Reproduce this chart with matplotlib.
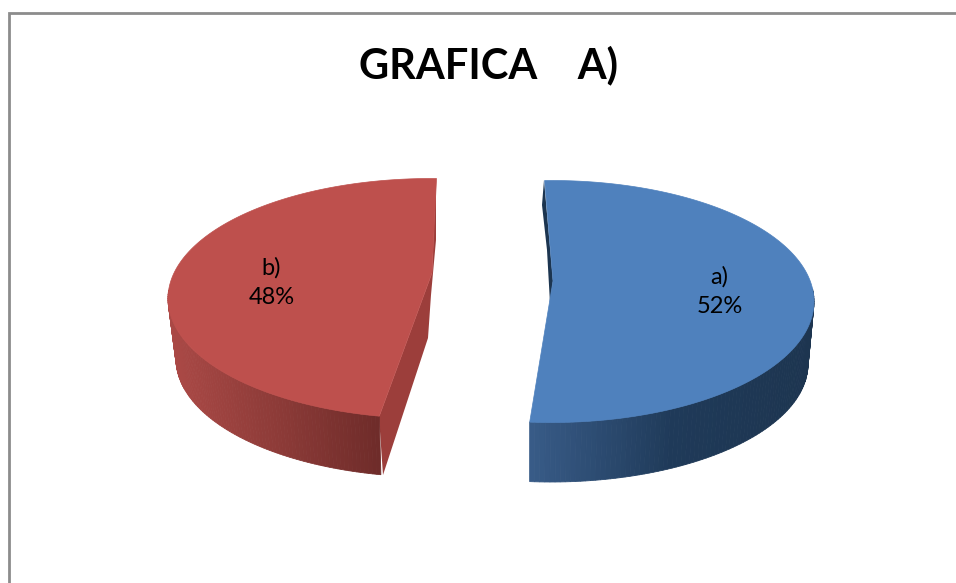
import numpy as np
import matplotlib
matplotlib.use('Agg')
import matplotlib.pyplot as plt
from matplotlib.colors import to_rgb
from matplotlib.patches import Polygon

title = 'GRAFICA    A)'
labels = ['a)', 'b)']
values = [52, 48]

plt.rcParams['font.family'] = ['Lato', 'DejaVu Sans']

# the drawing is in pixel coordinates of the 956x583 picture
fig = plt.figure(figsize=(9.56, 5.83), dpi=100)
ax = fig.add_axes([0, 0, 1, 1])
ax.set_xlim(0, 956)
ax.set_ylim(583, 0)
ax.axis('off')


def ellipse(c, r, t):
    t = np.radians(t)
    return np.column_stack([c[0] + r[0] * np.cos(t), c[1] - r[1] * np.sin(t)])


def wall(t0, t1, c_top, r_top, c_bot, r_bot, col_a, col_b, col_c):
    # outer wall of a slice as thin strips, shaded from left to right
    ts = np.linspace(t0, t1, 90)
    top = ellipse(c_top, r_top, ts)
    bot = ellipse(c_bot, r_bot, ts)
    xs = top[:, 0]
    u = (xs - xs.min()) / (xs.max() - xs.min())
    for i in range(len(ts) - 1):
        f = u[i]
        if f < 0.5:
            col = np.array(to_rgb(col_a)) * (1 - 2 * f) + np.array(to_rgb(col_b)) * 2 * f
        else:
            col = np.array(to_rgb(col_b)) * (2 - 2 * f) + np.array(to_rgb(col_c)) * (2 * f - 1)
        pts = [top[i], top[i + 1], bot[i + 1], bot[i]]
        ax.add_patch(Polygon(pts, closed=True, fc=col, ec=col, lw=0.6))


# frame
ax.plot([9, 9, 956], [583, 13, 13], color='#8c8c8c', lw=2, solid_joinstyle='miter')

total = sum(values)
sweep_a = values[0] / total * 360 * 0.995
sweep_b = values[1] / total * 360 * 0.983  # perspective squeezes the red one a bit

# blue slice, runs clockwise from the top
c_a, r_a = (551.5, 301.5), (262.5, 121)
cb_a, rb_a = (551, 364), (257, 118)
start_a = 91.5
end_a = start_a - sweep_a
ax.add_patch(Polygon([(544, 180), (542, 205), (547, 250), (550, 303), (553, 281)],
                     closed=True, fc='#1c3550', ec='none'))
wall(end_a, 6, c_a, r_a, cb_a, rb_a, '#385b87', '#1f3a59', '#1d3550')
arc = ellipse(c_a, r_a, np.linspace(start_a, end_a, 200))
ax.add_patch(Polygon(np.vstack([arc, [(553, 281)]]), closed=True, fc='#4f81bd', ec='#4f81bd', lw=0.5))

# red slice, runs anticlockwise from the top
c_b, r_b = (431, 298.5), (263, 120)
cb_b, rb_b = (431, 359), (255, 118)
start_b = 88.8
end_b = start_b + sweep_b
ax.add_patch(Polygon([(436, 178), (436, 240), (431, 295), (428, 338), (383, 475), (379, 417), (432, 273)],
                     closed=True, fc='#9c3e3b', ec='none'))
wall(176, end_b, c_b, r_b, cb_b, rb_b, '#ab4946', '#8d3b38', '#6e2b29')
arc = ellipse(c_b, r_b, np.linspace(start_b, end_b, 200))
ax.add_patch(Polygon(np.vstack([arc, [(432, 273)]]), closed=True, fc='#be504d', ec='#be504d', lw=0.5))

# labels sit on the middle angle of each slice
mid_a = ellipse(c_a, (r_a[0] * 0.64, r_a[1] * 0.64), (start_a + end_a) / 2)[0]
mid_b = ellipse(c_b, (r_b[0] * 0.61, r_b[1] * 0.61), (start_b + end_b) / 2)[0]
for lab, val, pos, dy in zip(labels, values, [mid_a, mid_b], [-12, -8]):
    ax.text(pos[0], pos[1] + dy, f'{lab}\n{val}%', ha='center', va='center',
            fontsize=17, color='black', linespacing=1.47)

ax.text(489, 65, title, ha='center', va='center', fontsize=30, fontweight='bold', color='black')

fig.savefig('out.png', dpi=100)
